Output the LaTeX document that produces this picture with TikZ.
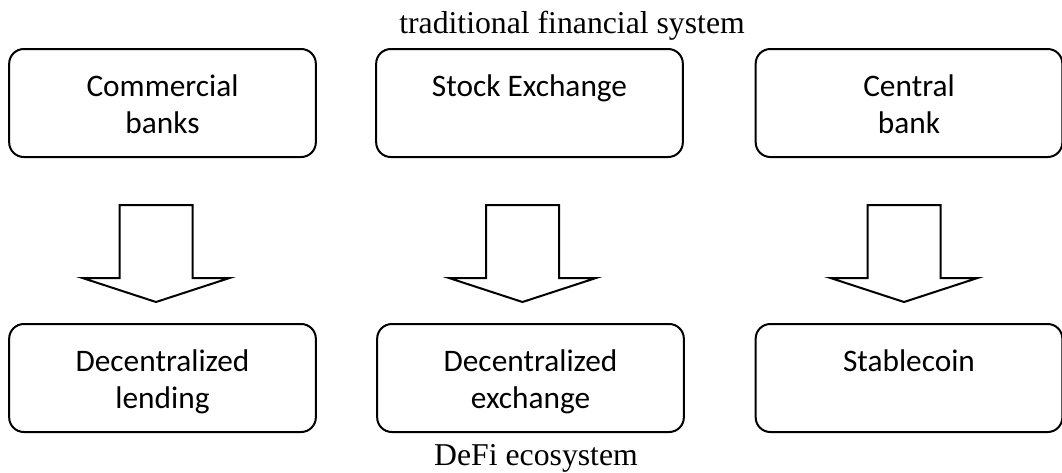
\documentclass[tikz,border=0pt]{standalone}
\usepackage{fontspec}
\setmainfont{Liberation Serif}
\newfontfamily\boxfont{Carlito}
\usetikzlibrary{positioning}

\tikzset{
  stage/.style={draw,line width=1.5pt,rounded corners=11pt,inner sep=0pt,
    font=\boxfont\fontsize{23.5}{27.5}\selectfont},
  caption/.style={inner sep=0pt,anchor=base,font=\fontsize{23.8}{28}\selectfont},
  blockarrow/.style={draw,line width=1.5pt,line join=miter}
}
\newcommand{\stagetext}[1]{\parbox[c][81pt][t]{230pt}{\centering\rule{0pt}{35.5pt}#1}}

\begin{document}
\begin{tikzpicture}[x=0.75pt,y=-0.75pt]
\useasboundingbox (0,0) rectangle (1062,472);
% traditional side
\node[caption] (tfs) at (572,33) {traditional financial system};
\node[stage] (cbanks) at (162.5,103) {\stagetext{Commercial\\banks}};
\node[stage] (stockex) at (529.5,103) {\stagetext{Stock Exchange}};
\node[stage] (cbank) at (909,103) {\stagetext{Central\\bank}};
% block arrows
\foreach \cx in {156,522.5,904}
  \draw[blockarrow] ({\cx-36.5},205) -- ({\cx+36.5},205) -- ({\cx+36.5},278)
    -- ({\cx+73.5},278) -- (\cx,302) -- ({\cx-73.5},278) -- ({\cx-36.5},278) -- cycle;
% DeFi side
\node[stage] (dlend) at (162.5,378) {\stagetext{Decentralized\\lending}};
\node[stage] (dex) at (530.5,378) {\stagetext{Decentralized\\exchange}};
\node[stage] (stable) at (909,378) {\stagetext{Stablecoin}};
\node[caption] (defi) at (536,465) {DeFi ecosystem};
\end{tikzpicture}
\end{document}
